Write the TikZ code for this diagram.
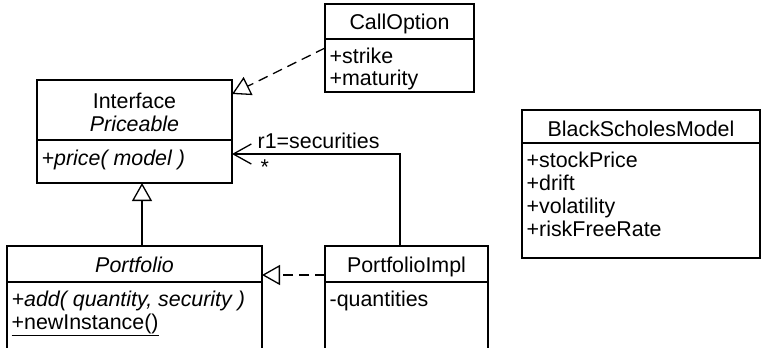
\documentclass[tikz,border=0pt]{standalone}
\usepackage{fontspec}
\setmainfont{Liberation Sans}
\usetikzlibrary{arrows.meta,calc}
\begin{document}
\begin{tikzpicture}[x=1pt,y=-1pt,line width=1.3pt,
  classbox/.style={draw,rectangle,anchor=north west,inner sep=0pt,outer sep=0pt},
  txt/.style={inner sep=0pt,font=\fontsize{21.4}{24}\selectfont},
  realize/.style={dash pattern=on 10pt off 6pt,-{Triangle[open,length=18pt,width=20pt]}},
  general/.style={-{Triangle[open,length=18pt,width=20pt]}},
  navig/.style={-{Straight Barb[length=18pt,width=20pt]}}]
\useasboundingbox (0,0) rectangle (761,348);
\clip (0,0) rectangle (761,348);
% CallOption
\node[classbox,minimum width=149pt,minimum height=88pt] (co) at (325,4) {};
\draw (325,39) -- (474,39);
\node[txt,anchor=base] (cot) at (399.5,30) {CallOption};
\node[txt,anchor=base west] (co1) at (329,63) {+strike};
\node[txt,anchor=base west] (co2) at (329,85) {+maturity};
% Priceable
\node[classbox,minimum width=195pt,minimum height=103pt] (pr) at (37,80) {};
\draw (37,140) -- (232,140);
\node[txt,anchor=base] (prt1) at (134.5,108) {Interface};
\node[txt,anchor=base] (prt2) at (134.5,131) {\itshape Priceable};
\node[txt,anchor=base west] (pr1) at (41,165) {\itshape +price( model )};
% BlackScholesModel
\node[classbox,minimum width=238pt,minimum height=148pt] (bs) at (522,110) {};
\draw (522,143) -- (760,143);
\node[txt,anchor=base] (bst) at (641,136) {BlackScholesModel};
\node[txt,anchor=base west] (bs1) at (526,167) {+stockPrice};
\node[txt,anchor=base west] (bs2) at (526,190) {+drift};
\node[txt,anchor=base west] (bs3) at (526,213) {+volatility};
\node[txt,anchor=base west] (bs4) at (526,236) {+riskFreeRate};
% Portfolio
\node[classbox,minimum width=255pt,minimum height=120pt] (pf) at (7,246) {};
\draw (7,282) -- (262,282);
\node[txt,anchor=base] (pft) at (134.5,272) {\itshape Portfolio};
\node[txt,anchor=base west] (pf1) at (11,306) {\itshape +add( quantity, security )};
\node[txt,anchor=base west] (pf2) at (11,329) {\underline{+newInstance()}};
% PortfolioImpl
\node[classbox,minimum width=163pt,minimum height=120pt] (pi) at (325,246) {};
\draw (325,282) -- (488,282);
\node[txt,anchor=base] (pit) at (406.5,272) {PortfolioImpl};
\node[txt,anchor=base west] (pi1) at (329,306) {-quantities};
% connectors
\coordinate (coA) at ($(co.north west)+(0,44)$);
\coordinate (prA) at ($(pr.north east)+(0,14)$);
\draw[realize] (coA) -- (prA);
\draw[general] (pf.north west -| 142,0) -- (pr.south west -| 142,0);
\coordinate (piA) at ($(pi.north west)+(0,29)$);
\coordinate (pfA) at ($(pf.north east)+(0,29)$);
\draw[realize] (piA) -- (pfA);
\coordinate (piB) at (pi.north west -| 400,0);
\coordinate (prB) at ($(pr.north east)+(0,74)$);
\draw[navig] (piB) |- (prB);
\node[txt,anchor=base west] (rl) at (257,148) {r1=securities};
\node[txt,anchor=base west] (ml) at (260,174) {*};
\end{tikzpicture}
\end{document}
